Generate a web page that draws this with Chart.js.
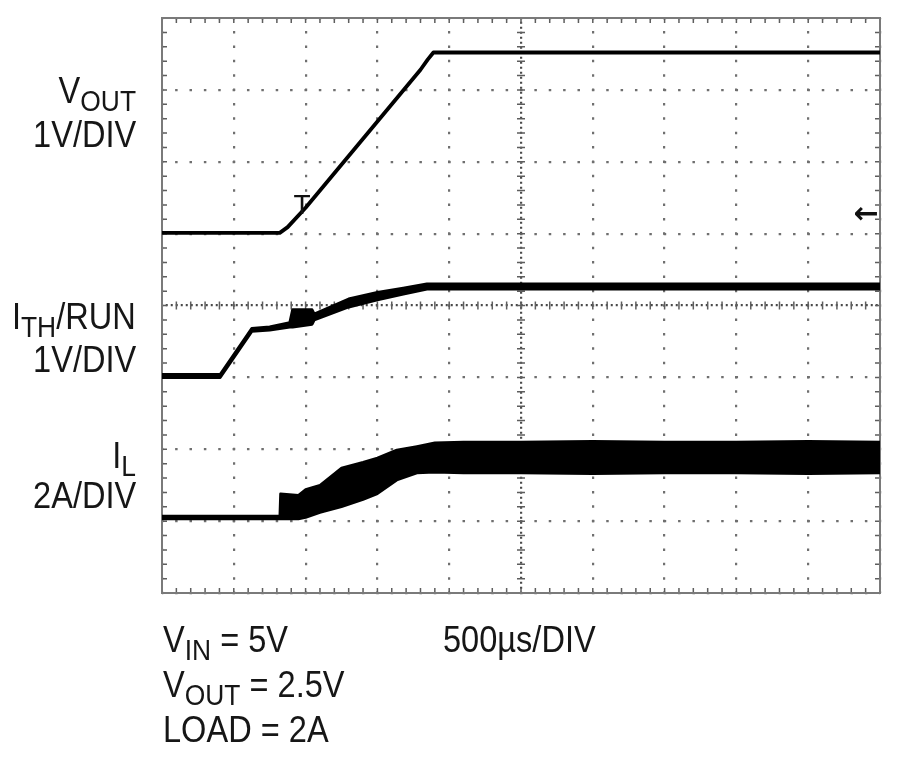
<!DOCTYPE html>
<html>
<head>
<meta charset="utf-8">
<script src="https://cdn.jsdelivr.net/npm/chart.js@4/dist/chart.umd.min.js"></script>
<style>
  body { margin: 0; background: #fff; }
  #wrap { position: relative; width: 900px; height: 757px; overflow: hidden; }
  #chart { position: absolute; left: 0; top: 0; }
  .lab {
    position: absolute; white-space: nowrap; color: #161616;
    font-family: "Liberation Sans", Arial, sans-serif; font-size: 37px; line-height: 37px;
  }
  .lab.r { right: 764px; transform: scaleX(0.88); transform-origin: right top; }
  .lab.l { transform: scaleX(0.88); transform-origin: left top; }
  .lab .s { font-size: 30px; position: relative; top: 8px; }
</style>
</head>
<body>
<div id="wrap">
  <canvas id="chart" width="900" height="757"></canvas>

  <div class="lab r" style="top:72px">V<span class="s">OUT</span></div>
  <div class="lab r" style="top:116px">1V/DIV</div>
  <div class="lab r" style="top:298px">I<span class="s">TH</span>/RUN</div>
  <div class="lab r" style="top:341px">1V/DIV</div>
  <div class="lab r" style="top:437px">I<span class="s">L</span></div>
  <div class="lab r" style="top:477px">2A/DIV</div>

  <div class="lab l" style="left:163px; top:621px">V<span class="s">IN</span> = 5V</div>
  <div class="lab l" style="left:163px; top:666px">V<span class="s">OUT</span> = 2.5V</div>
  <div class="lab l" style="left:163px; top:711px">LOAD = 2A</div>
  <div class="lab l" style="left:443px; top:621px">500µs/DIV</div>
</div>

<script>
// scope screen: 10 x 8 divisions, values read in divisions
const divX = 10
const divY = 8

// V_OUT trace (1V/DIV)
const vOutT = [0, 1.64, 1.75, 2.0, 3.0, 3.6, 3.7, 3.78, 10]
const vOut  = [5.01, 5.01, 5.09, 5.36, 6.56, 7.28, 7.42, 7.52, 7.52]

// I_TH/RUN trace (1V/DIV), upper and lower edge of the trace
const ithT  = [0, 0.81, 1.25, 1.5, 1.78, 1.82, 2.09, 2.12, 2.6, 3.0, 3.36, 3.69, 10]
const ithHi = [3.04, 3.04, 3.68, 3.70, 3.76, 3.94, 3.94, 3.88, 4.09, 4.18, 4.24, 4.30, 4.30]
const ithLo = [3.00, 3.00, 3.64, 3.66, 3.70, 3.70, 3.74, 3.80, 3.98, 4.08, 4.16, 4.23, 4.23]

// I_L trace (2A/DIV), ripple envelope
const ilT  = [0, 1.64, 1.65, 1.9, 2.0, 2.2, 2.5, 2.8, 3.0, 3.27, 3.55, 3.8, 4.2, 5, 6, 7, 8, 9, 10]
const ilHi = [1.07, 1.07, 1.38, 1.36, 1.44, 1.50, 1.74, 1.82, 1.88, 1.99, 2.04, 2.09, 2.10, 2.10, 2.11, 2.10, 2.10, 2.11, 2.10]
const ilLo = [1.03, 1.03, 1.03, 1.03, 1.05, 1.12, 1.20, 1.30, 1.38, 1.57, 1.67, 1.68, 1.67, 1.67, 1.66, 1.67, 1.67, 1.66, 1.67]

// trigger marker and trigger level arrow
const trigMark = [1.95, 5.5]
const trigLevel = 5.26

const pts = (t, v) => t.map((x, i) => ({ x: x, y: v[i] }))

const trace = (data, width, fill) => ({
    data: data,
    borderColor: '#000',
    backgroundColor: '#000',
    borderWidth: width,
    pointRadius: 0,
    tension: 0,
    borderJoinStyle: 'round',
    fill: fill
})

// small graticule ticks on the frame and the centre cross
const graticule = {
    id: 'graticule',
    beforeDatasetsDraw(chart) {
        const { ctx, chartArea: a, scales: { x, y } } = chart
        const cx = x.getPixelForValue(divX / 2)
        const cy = y.getPixelForValue(divY / 2)
        ctx.save()
        ctx.strokeStyle = '#5e5e5e'
        ctx.lineWidth = 1.5
        ctx.beginPath()
        for (let i = 0; i <= divX * 5; i++) {
            const px = x.getPixelForValue(i / 5)
            ctx.moveTo(px, a.top); ctx.lineTo(px, a.top + 5)
            ctx.moveTo(px, a.bottom); ctx.lineTo(px, a.bottom - 5)
            ctx.moveTo(px, cy - 4); ctx.lineTo(px, cy + 4)
        }
        for (let i = 0; i <= divY * 5; i++) {
            const py = y.getPixelForValue(i / 5)
            ctx.moveTo(a.left, py); ctx.lineTo(a.left + 5, py)
            ctx.moveTo(a.right, py); ctx.lineTo(a.right - 5, py)
            ctx.moveTo(cx - 4, py); ctx.lineTo(cx + 4, py)
        }
        ctx.stroke()
        ctx.strokeStyle = '#7a7a7a'
        ctx.lineWidth = 2
        ctx.strokeRect(a.left, a.top, a.right - a.left, a.bottom - a.top)
        ctx.restore()
    },
    afterDatasetsDraw(chart) {
        const { ctx, scales: { x, y } } = chart
        ctx.save()
        ctx.fillStyle = '#111'
        ctx.font = '28px "Liberation Sans", Arial, sans-serif'
        ctx.textAlign = 'center'
        ctx.textBaseline = 'top'
        ctx.fillText('T', x.getPixelForValue(trigMark[0]), y.getPixelForValue(trigMark[1]) - 5)
        ctx.textAlign = 'right'
        ctx.textBaseline = 'middle'
        ctx.font = 'bold 30px "DejaVu Sans", sans-serif'
        ctx.fillText('←', x.getPixelForValue(divX) - 1, y.getPixelForValue(trigLevel))
        ctx.restore()
    }
}

const gridDash = (ctx, centre) => ctx.tick && ctx.tick.value === centre ? [2, 3] : [2.5, 11.87]

new Chart(document.querySelector('#chart'), {
    type: 'line',
    data: {
        datasets: [
            trace(pts(vOutT, vOut), 3.8, false),
            trace(pts(ithT, ithLo), 3, false),
            trace(pts(ithT, ithHi), 3, '-1'),
            trace(pts(ilT, ilLo), 2.5, false),
            trace(pts(ilT, ilHi), 2.5, '-1')
        ]
    },
    options: {
        responsive: false,
        animation: false,
        layout: { padding: { left: 162, top: 18, right: 20, bottom: 164 } },
        plugins: { legend: { display: false }, tooltip: { enabled: false } },
        scales: {
            x: {
                type: 'linear', min: 0, max: divX,
                ticks: { display: false, stepSize: 1 },
                grid: {
                    drawTicks: false,
                    color: ctx => ctx.tick && ctx.tick.value === divX / 2 ? '#4a4a4a' : '#6f6f6f',
                    lineWidth: 2.2
                },
                border: { display: false, dash: ctx => gridDash(ctx, divX / 2), dashOffset: 1.25 }
            },
            y: {
                type: 'linear', min: 0, max: divY,
                ticks: { display: false, stepSize: 1 },
                grid: {
                    drawTicks: false,
                    color: ctx => ctx.tick && ctx.tick.value === divY / 2 ? '#4a4a4a' : '#6f6f6f',
                    lineWidth: 2.2
                },
                border: { display: false, dash: ctx => gridDash(ctx, divY / 2), dashOffset: 1.25 }
            }
        }
    },
    plugins: [graticule]
})
</script>
</body>
</html>
